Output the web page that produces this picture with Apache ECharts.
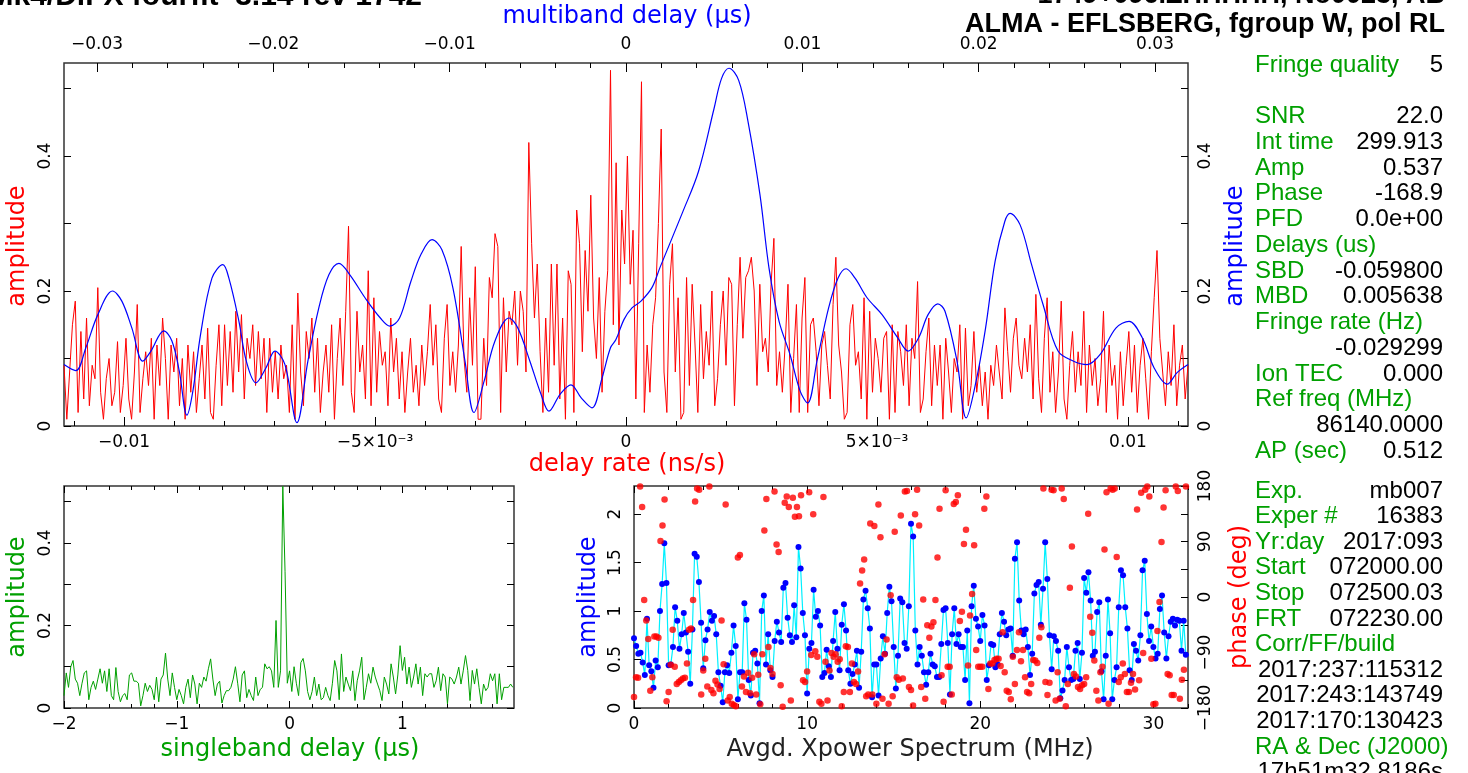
<!DOCTYPE html>
<html><head><meta charset="utf-8">
<script src="https://cdn.jsdelivr.net/npm/echarts@6/dist/echarts.min.js"></script>
<style>html,body{margin:0;padding:0;background:#fff;overflow:hidden}#c{width:1468px;height:773px}</style>
</head><body><div id="c"></div>
<script>
// ---------------- DATA ----------------
// delay-rate spectrum (red), amplitude, evenly sampled across the delay-rate window (ns/s)
const rateRange = [-0.011195, 0.011195];
const rateAmp = [
0.09,0.01,0.08,0.15,0.185,0.02,0.14,0.04,0.16,0.03,
0.09,0.07,0.205,0.05,0.01,0.07,0.10,0.03,0.05,0.125,
0.02,0.06,0.13,0.04,0.01,0.08,0.18,0.02,0.07,0.11,
0.06,0.13,0.01,0.12,0.06,0.16,0.10,0.01,0.12,0.08,
0.13,0.03,0.10,0.01,0.12,0.05,0.11,0.02,0.07,0.12,
0.04,0.145,0.02,0.01,0.09,0.15,0.03,0.15,0.06,0.14,
0.05,0.17,0.08,0.165,0.04,0.13,0.10,0.15,0.06,0.14,
0.07,0.13,0.02,0.13,0.05,0.11,0.04,0.12,0.07,0.09,
0.02,0.15,0.01,0.197,0.08,0.03,0.14,0.10,0.16,0.05,
0.13,0.02,0.08,0.12,0.05,0.15,0.01,0.10,0.16,0.06,
0.17,0.296,0.05,0.02,0.17,0.08,0.12,0.04,0.23,0.03,
0.19,0.05,0.14,0.09,0.11,0.03,0.16,0.08,0.13,0.04,
0.11,0.02,0.08,0.13,0.05,0.09,0.03,0.12,0.06,0.11,
0.18,0.09,0.15,0.04,0.02,0.13,0.18,0.06,0.11,0.05,
0.12,0.266,0.10,0.05,0.19,0.09,0.236,0.01,0.01,0.13,
0.06,0.22,0.19,0.285,0.266,0.02,0.19,0.08,0.17,0.15,
0.20,0.09,0.20,0.17,0.08,0.42,0.27,0.16,0.24,0.11,
0.02,0.16,0.05,0.24,0.09,0.24,0.04,0.16,0.01,0.23,
0.21,0.02,0.32,0.27,0.11,0.26,0.17,0.342,0.16,0.10,
0.22,0.05,0.17,0.23,0.527,0.15,0.39,0.12,0.32,0.24,
0.40,0.21,0.29,0.04,0.27,0.51,0.02,0.12,0.05,0.15,
0.19,0.30,0.44,0.08,0.02,0.21,0.27,0.08,0.19,0.01,
0.02,0.22,0.06,0.21,0.12,0.02,0.18,0.07,0.14,0.09,
0.20,0.03,0.07,0.15,0.20,0.09,0.22,0.21,0.03,0.15,
0.25,0.13,0.22,0.23,0.25,0.20,0.06,0.21,0.11,0.13,
0.08,0.21,0.278,0.06,0.11,0.05,0.12,0.21,0.02,0.10,
0.18,0.02,0.16,0.22,0.02,0.15,0.16,0.11,0.03,0.12,
0.14,0.09,0.04,0.18,0.25,0.12,0.08,0.01,0.02,0.15,
0.18,0.09,0.11,0.04,0.19,0.01,0.17,0.05,0.13,0.10,
0.05,0.13,0.14,0.01,0.15,0.02,0.14,0.11,0.06,0.15,
0.03,0.13,0.10,0.214,0.02,0.04,0.11,0.16,0.03,0.12,
0.06,0.12,0.01,0.13,0.08,0.02,0.10,0.08,0.15,0.01,
0.145,0.03,0.06,0.14,0.05,0.09,0.03,0.08,0.01,0.09,
0.06,0.12,0.08,0.04,0.175,0.11,0.05,0.13,0.16,0.09,
0.07,0.13,0.08,0.15,0.04,0.195,0.07,0.02,0.13,0.19,
0.05,0.11,0.02,0.08,0.185,0.04,0.01,0.09,0.14,0.05,
0.11,0.06,0.17,0.02,0.12,0.06,0.10,0.03,0.07,0.17,
0.02,0.12,0.06,0.09,0.01,0.11,0.03,0.09,0.14,0.05,
0.12,0.02,0.09,0.13,0.07,0.01,0.11,0.19,0.26,0.13,
0.08,0.03,0.11,0.06,0.15,0.03,0.09,0.12,0.04,0.09];

// multiband delay function (blue): delay (us) and amplitude
const mbdRange = [-0.03187, 0.03187];
const mbdX = [-0.03187,-0.0312,-0.03063,-0.02995,-0.02912,-0.02859,-0.02802,-0.0274,-0.02694,-0.02621,
-0.02575,-0.02533,-0.0249,-0.02456,-0.02413,-0.02348,-0.02286,-0.02252,-0.02195,-0.02153,
-0.02099,-0.02042,-0.01991,-0.01934,-0.01866,-0.01804,-0.01742,-0.01685,-0.01628,-0.01566,
-0.0148,-0.01393,-0.01339,-0.01284,-0.0122,-0.01163,-0.011,-0.01044,-0.00981,-0.00913,
-0.00862,-0.00805,-0.00743,-0.00664,-0.00613,-0.00545,-0.00482,-0.00437,-0.00374,-0.00312,
-0.00255,-0.00193,-0.00136,-0.00088,-0.00057,-0.00011,0.00034,0.00085,0.00147,0.00193,
0.00323,0.00411,0.00499,0.00542,0.00584,0.00639,0.00692,0.0076,0.00811,0.00868,
0.0093,0.00987,0.0103,0.01083,0.01149,0.01202,0.01248,0.01299,0.01367,0.01452,
0.0154,0.016,0.0166,0.01713,0.01768,0.01809,0.01877,0.01929,0.01985,0.02039,
0.02093,0.02148,0.02178,0.02235,0.023,0.02365,0.0245,0.02538,0.02615,0.02689,
0.02778,0.02853,0.02927,0.02995,0.03069,0.03125,0.03187];
const mbdAmp = [0.091,0.082,0.116,0.165,0.200,0.185,0.145,0.096,0.111,0.141,
0.126,0.081,0.016,0.052,0.135,0.219,0.239,0.219,0.155,0.096,
0.064,0.086,0.111,0.091,0.005,0.096,0.175,0.224,0.241,0.224,
0.19,0.16,0.148,0.16,0.214,0.254,0.276,0.261,0.204,0.096,
0.020,0.066,0.126,0.16,0.145,0.096,0.047,0.022,0.047,0.061,
0.042,0.027,0.071,0.116,0.128,0.158,0.175,0.185,0.205,0.235,
0.318,0.377,0.470,0.515,0.530,0.512,0.451,0.342,0.234,0.155,
0.106,0.052,0.034,0.096,0.175,0.219,0.233,0.219,0.19,0.165,
0.131,0.111,0.131,0.165,0.181,0.17,0.096,0.012,0.066,0.145,
0.244,0.303,0.315,0.298,0.239,0.18,0.111,0.096,0.091,0.106,
0.145,0.155,0.131,0.086,0.062,0.079,0.091];

// singleband delay function (green), from -2 us in 0.02 us steps
const sbdStart = -2, sbdStep = 0.02, sbdRange = [-2, 1.99];
const sbdAmp = [
0.03,0.085,0.05,0.10,0.115,0.07,0.06,0.03,0.06,0.085,
0.09,0.02,0.05,0.065,0.045,0.07,0.095,0.06,0.09,0.04,
0.095,0.03,0.02,0.098,0.04,0.015,0.03,0.035,0.02,0.08,
0.085,0.065,0.065,0.06,0.005,0.03,0.06,0.04,0.055,0.045,
0.02,0.075,0.015,0.07,0.08,0.133,0.07,0.03,0.085,0.05,
0.02,0.045,0.03,0.01,0.05,0.07,0.025,0.08,0.058,0.01,
0.06,0.05,0.075,0.065,0.095,0.119,0.07,0.03,0.058,0.065,
0.012,0.03,0.042,0.042,0.05,0.07,0.10,0.06,0.015,0.08,
0.09,0.025,0.045,0.03,0.018,0.075,0.03,0.045,0.05,0.107,
0.095,0.10,0.09,0.05,0.212,0.05,0.09,0.537,0.33,0.06,
0.09,0.04,0.10,0.06,0.03,0.11,0.12,0.09,0.04,0.02,
0.04,0.075,0.03,0.058,0.02,0.025,0.05,0.03,0.018,0.06,
0.115,0.09,0.02,0.131,0.04,0.075,0.058,0.042,0.09,0.018,
0.066,0.09,0.123,0.02,0.05,0.083,0.06,0.099,0.075,0.058,
0.042,0.018,0.075,0.058,0.034,0.107,0.075,0.034,0.08,0.151,
0.091,0.123,0.058,0.099,0.05,0.075,0.107,0.058,0.099,0.03,
0.083,0.075,0.083,0.083,0.05,0.066,0.099,0.042,0.083,0.075,
0.01,0.075,0.07,0.058,0.075,0.099,0.058,0.09,0.127,0.091,
0.018,0.091,0.058,0.095,0.05,0.01,0.058,0.042,0.05,0.083,
0.066,0.083,0.01,0.083,0.02,0.05,0.05,0.05,0.058,0.05];

// averaged cross-power spectrum: amplitude (blue) and phase (red), 0..32 MHz
const xpRange = [0, 32];
const xpAmp = [
0.72,0.64,0.56,0.57,0.47,0.34,0.92,0.44,0.38,0.21,
0.49,0.42,1.00,1.28,1.70,1.29,0.44,0.45,0.63,1.04,
0.90,0.61,0.76,0.98,0.78,0.58,0.25,0.81,1.59,1.56,
1.30,0.88,0.41,0.70,0.81,0.99,0.90,0.95,0.76,0.37,
0.23,0.06,0.37,0.44,0.36,0.57,0.85,0.64,0.09,0.37,
0.37,1.08,0.91,0.29,0.13,0.57,0.59,0.46,0.05,1.00,
1.16,0.45,0.76,0.39,0.32,0.69,0.89,0.78,0.68,1.24,
1.29,0.93,0.75,0.68,1.06,0.73,1.66,1.44,0.98,0.75,
0.15,0.61,0.67,1.22,0.94,1.00,0.85,0.32,0.36,0.60,
0.43,0.32,0.69,0.99,0.61,0.39,0.86,1.07,0.80,0.39,
0.25,0.35,0.45,0.59,0.21,0.58,1.12,1.21,1.03,0.82,
0.11,0.45,0.45,0.13,0.51,0.74,0.56,0.98,1.25,1.10,
0.63,0.20,0.54,1.13,1.09,0.67,0.61,1.05,1.90,1.77,
0.80,0.45,0.63,0.54,0.37,0.24,0.37,0.56,0.45,0.43,
0.32,0.32,0.66,1.01,1.03,0.67,0.14,0.76,1.03,0.66,
0.76,0.63,0.63,0.29,0.80,0.05,1.05,1.26,0.92,0.84,
0.69,0.96,0.85,0.29,0.44,0.66,0.65,0.42,0.45,0.76,
0.98,0.89,0.75,0.81,0.82,0.54,1.54,1.71,1.11,0.80,
0.76,0.81,0.63,0.34,0.56,1.18,1.27,1.30,0.86,1.23,
1.71,1.33,0.75,0.40,0.74,0.69,0.59,0.10,0.18,0.29,
0.63,0.42,0.29,0.30,0.59,0.67,0.30,0.57,1.34,1.19,
1.40,1.11,0.54,0.58,0.99,1.09,0.38,0.09,0.54,1.12,
0.77,0.09,0.29,0.42,1.04,1.42,1.37,1.04,0.82,0.39,
0.29,0.66,0.59,0.49,0.75,1.42,1.52,0.97,0.69,0.84,
0.63,0.51,0.56,1.02,1.16,0.78,0.51,0.74,0.89,0.92,
0.85,0.91,0.90,0.59,0.90,0.55];
const xpPhase = [
-162,-130,-131,179,146,-5,-38,-68,-152,-130,
-64,-64,-66,91,116,158,-169,-154,-110,-53,
-113,-141,-138,-135,-132,-131,-108,-53,-51,-5,
155,176,174,-158,-119,-100,-145,179,-151,-156,
-136,-142,-149,-38,-109,150,-168,-162,-173,-175,
-177,64,68,-145,-129,-154,-123,-156,-131,-93,
-158,-126,-174,-93,108,159,-81,-115,-125,171,
85,73,-143,-178,153,163,146,-168,161,130,
146,131,165,-135,-138,-121,170,-94,134,-88,
-97,-170,-173,162,-105,-168,-119,-91,-97,-93,
-105,-101,-177,-154,-80,-81,-154,-108,-138,-141,
-121,22,43,61,-161,-158,119,-158,115,-173,
150,97,-165,-93,-69,-173,3,-161,106,-130,
-134,132,-132,171,172,-146,-151,-176,134,174,
116,-146,-4,-165,-46,-66,-48,-41,-5,64,
143,-127,-170,173,-113,-113,-158,151,154,165,
-39,-24,86,109,-111,-30,5,84,-86,-113,
-113,-113,143,163,-149,-108,-108,-102,-100,-100,
-112,-57,-122,-152,-154,-166,-97,-141,-86,-57,
-104,-86,-130,-154,-156,-141,-102,-103,-107,-66,
-49,176,-138,-159,-139,174,173,-168,-122,-165,
176,159,-177,-141,15,82,-125,-129,-146,-149,
-143,-141,-130,135,-32,-58,-103,-152,-168,-122,
-113,77,170,-173,176,174,176,65,-138,-130,
-108,-125,-154,-154,-139,-125,-150,142,-135,169,
-91,174,179,163,-100,-174,-173,-55,-8,89,
145,173,-125,-127,-159,-159,179,172,-165,-134,
-118,179];

// axis ticks and labels
const rateMajor = [-0.01,-0.005,0,0.005,0.01];
const rateLabels = ['\u22120.01','\u22125\u00d710\u207b\u00b3','0','5\u00d710\u207b\u00b3','0.01'];
const rateMinor = [-0.011,-0.009,-0.008,-0.007,-0.006,-0.004,-0.003,-0.002,-0.001,0.001,0.002,0.003,0.004,0.006,0.007,0.008,0.009,0.011];
const mbdMajor = [-0.03,-0.02,-0.01,0,0.01,0.02,0.03];
const mbdMinor = [-0.028,-0.026,-0.024,-0.022,-0.018,-0.016,-0.014,-0.012,-0.008,-0.006,-0.004,-0.002,0.002,0.004,0.006,0.008,0.012,0.014,0.016,0.018,0.022,0.024,0.026,0.028];
const ampTicks = [0,0.1,0.2,0.3,0.4,0.5];
const ampLabels = [0,0.2,0.4];
const sbdMajor = [-2,-1,0,1];
const sbdMinor = [-1.8,-1.6,-1.4,-1.2,-0.8,-0.6,-0.4,-0.2,0.2,0.4,0.6,0.8,1.2,1.4,1.6,1.8];
const xpMajor = [0,10,20,30];
const xpMinor = [2,4,6,8,12,14,16,18,22,24,26,28,32];
const xpAmpTicks = [0,0.5,1,1.5,2];
const phaseTicks = [-180,-135,-90,-45,0,45,90,135,180];
const phaseLabels = [-180,-90,0,90,180];

const titleLeft = 'Mk4/DiFX fourfit  3.14 rev 1742';
const titleRight1 = '1749+096.ZHHHHH, No0023, AB';
const titleRight2 = 'ALMA - EFLSBERG, fgroup W, pol RL';

const info1 = [['Fringe quality','5'],['',''],['SNR','22.0'],['Int time','299.913'],['Amp','0.537'],['Phase','-168.9'],['PFD','0.0e+00'],['Delays (us)',''],['SBD','-0.059800'],['MBD','0.005638'],['Fringe rate (Hz)',''],['','-0.029299'],['Ion TEC','0.000'],['Ref freq (MHz)',''],['','86140.0000'],['AP (sec)','0.512']];
const info2 = [['Exp.','mb007'],['Exper #','16383'],['Yr:day','2017:093'],['Start','072000.00'],['Stop','072500.03'],['FRT','072230.00'],['Corr/FF/build',''],['','2017:237:115312'],['','2017:243:143749'],['','2017:170:130423'],['RA & Dec (J2000)',''],['','17h51m32.8186s']];

// ---------------- CHART ----------------
const RED='#ff0000', BLUE='#0000ff', GREEN='#00a000', CYAN='#00f0ff';
const FONT='DejaVu Sans', PFONT='Liberation Sans';
const minus = v => String(v).replace('-', '\u2212');

function axis(grid, pos, range, ticks, len, labels, fmt, extra) {
  const a = {
    type:'value', gridIndex:grid, position:pos, min:range[0], max:range[1],
    axisLine:{show:false, onZero:false}, splitLine:{show:false}, axisPointer:{show:false},
    axisTick:{show:true, inside:true, length:len, customValues:ticks, lineStyle:{color:'#000', width:1}},
    axisLabel:{show:!!labels, customValues:labels||[], formatter:fmt||minus, fontFamily:FONT, fontSize:17, color:'#000', margin:8}
  };
  if (extra) { Object.assign(a.axisLabel, extra); }
  return a;
}

const xAxes = [
  axis(0,'bottom',rateRange,rateMajor,9,rateMajor,v=>rateLabels[rateMajor.findIndex(t=>Math.abs(t-v)<1e-9)],{margin:8}),
  axis(0,'bottom',rateRange,rateMinor,5),
  axis(0,'top',mbdRange,mbdMajor,9,mbdMajor,null,{margin:10}),
  axis(0,'top',mbdRange,mbdMinor,5),
  axis(1,'bottom',sbdRange,sbdMajor,7,sbdMajor,null,{margin:8}),
  axis(1,'bottom',sbdRange,sbdMinor,4),
  axis(1,'top',sbdRange,sbdMajor,7),
  axis(1,'top',sbdRange,sbdMinor,4),
  axis(2,'bottom',xpRange,xpMajor,7,xpMajor,null,{margin:8}),
  axis(2,'bottom',xpRange,xpMinor,4),
  axis(2,'top',xpRange,xpMajor,7),
  axis(2,'top',xpRange,xpMinor,4)
];
const yAxes = [
  axis(0,'left',[0,0.5378],ampTicks,7,ampLabels,null,{rotate:90,margin:10}),
  axis(0,'right',[0,0.5378],ampTicks,7,ampLabels,null,{rotate:90,margin:9}),
  axis(1,'left',[0,0.5378],ampTicks,7,ampLabels,null,{rotate:90,margin:10}),
  axis(1,'right',[0,0.5378],ampTicks,7),
  axis(2,'left',[0,2.29],xpAmpTicks,7,xpAmpTicks,null,{rotate:90,margin:10}),
  axis(2,'right',[-180,180],phaseTicks,7,phaseLabels,null,{rotate:90,margin:9})
];

const rateData = rateAmp.map((v,i)=>[rateRange[0]+i*(rateRange[1]-rateRange[0])/(rateAmp.length-1), v]);
const mbdData = mbdX.map((x,i)=>[x, mbdAmp[i]]);
const sbdData = sbdAmp.map((v,i)=>[sbdStart+i*sbdStep, v]);
const xpAmpData = xpAmp.map((v,i)=>[i*xpRange[1]/xpAmp.length, v]);
const xpPhData = xpPhase.map((v,i)=>[i*xpRange[1]/xpPhase.length, v]);

function txt(text, x, y, o) {
  o = o || {};
  return {type:'text', x:x, y:y, rotation:o.rot||0, silent:true, z:100,
    style:{text:text, fill:o.color||'#000', fontFamily:o.font||FONT, fontSize:o.size||24,
      fontWeight:o.weight||'normal', align:o.align||'center', verticalAlign:o.va||'middle'}};
}
const R = Math.PI/2;
const graphics = [
  txt(titleLeft, 422, 12, {font:PFONT, size:30, weight:'bold', align:'right', va:'bottom'}),
  txt(titleRight1, 1445, 9, {font:PFONT, size:27, weight:'bold', align:'right', va:'bottom'}),
  txt(titleRight2, 1445, 25, {font:PFONT, size:27, weight:'bold', align:'right'}),
  txt('multiband delay (\u03bcs)', 627, 17, {color:BLUE}),
  txt('delay rate (ns/s)', 627, 465, {color:RED}),
  txt('amplitude', 18, 246, {color:RED, rot:R}),
  txt('amplitude', 1236, 246, {color:BLUE, rot:R}),
  txt('amplitude', 18, 597, {color:GREEN, rot:R}),
  txt('singleband delay (\u03bcs)', 290, 750, {color:GREEN}),
  txt('amplitude', 589, 597, {color:BLUE, rot:R}),
  txt('Avgd. Xpower Spectrum (MHz)', 910, 750, {color:'#222'}),
  txt('phase (deg)', 1240, 597, {color:RED, rot:R})
];
info1.forEach((r,i)=>{ const y = 65 + i*25.75;
  if (r[0]) graphics.push(txt(r[0], 1255, y, {font:PFONT, size:24, color:GREEN, align:'left'}));
  if (r[1]) graphics.push(txt(r[1], 1443, y, {font:PFONT, size:24, align:'right'}));
});
info2.forEach((r,i)=>{ const y = 491 + i*25.6;
  if (r[0]) graphics.push(txt(r[0], 1255, y, {font:PFONT, size:24, color:GREEN, align:'left'}));
  if (r[1]) graphics.push(txt(r[1], 1443, y, {font:PFONT, size:24, align:'right'}));
});

const chart = echarts.init(document.getElementById('c'), null, {renderer:'canvas', width:1468, height:773});
chart.setOption({
  animation:false,
  backgroundColor:'#fff',
  grid:[
    {left:64, top:63, width:1124, height:363, show:true, borderColor:'#333', borderWidth:1.5, containLabel:false},
    {left:64, top:486, width:450, height:222, show:true, borderColor:'#333', borderWidth:1.5, containLabel:false},
    {left:634, top:486, width:554, height:222, show:true, borderColor:'#333', borderWidth:1.5, containLabel:false}
  ],
  xAxis:xAxes,
  yAxis:yAxes,
  series:[
    {type:'line', xAxisIndex:0, yAxisIndex:0, data:rateData, showSymbol:false, symbol:'none', lineStyle:{color:RED, width:1}, z:2, clip:true},
    {type:'line', xAxisIndex:2, yAxisIndex:1, data:mbdData, showSymbol:false, symbol:'none', smooth:0.35, lineStyle:{color:BLUE, width:1.2}, z:3, clip:true},
    {type:'line', xAxisIndex:4, yAxisIndex:2, data:sbdData, showSymbol:false, symbol:'none', lineStyle:{color:GREEN, width:1}, z:2, clip:true},
    {type:'line', xAxisIndex:8, yAxisIndex:4, data:xpAmpData, symbol:'circle', symbolSize:6, showSymbol:true,
      itemStyle:{color:BLUE, borderWidth:0}, lineStyle:{color:CYAN, width:1.2}, z:2, clip:true},
    {type:'scatter', xAxisIndex:8, yAxisIndex:5, data:xpPhData, symbol:'circle', symbolSize:6.5,
      itemStyle:{color:RED}, z:3, clip:true}
  ],
  graphic:graphics
});
</script>
</body></html>
